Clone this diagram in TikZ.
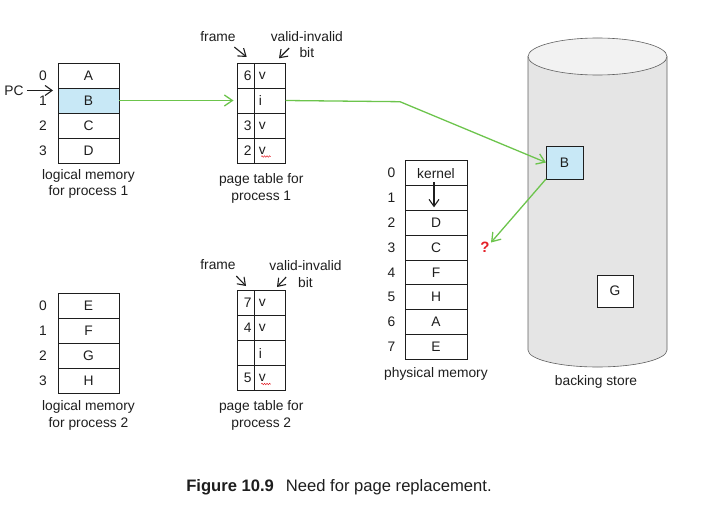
\documentclass[tikz,border=0pt]{standalone}
\usepackage{fontspec}
\setmainfont{Liberation Sans}
\usetikzlibrary{positioning, arrows.meta, decorations.pathmorphing}

\definecolor{linegreen}{RGB}{108,196,76}
\definecolor{cellblue}{RGB}{200,232,246}
\definecolor{storegray}{RGB}{229,229,229}
\definecolor{storetop}{RGB}{242,242,242}
\definecolor{storeline}{RGB}{95,95,95}
\definecolor{qred}{RGB}{228,32,40}
\definecolor{ink}{RGB}{30,30,30}

\begin{document}
\begin{tikzpicture}[x=1pt, y=1pt, font=\fontsize{13.8}{16.5}\selectfont, text=ink,
    cell/.style={draw=ink, line width=0.7pt, minimum width=61pt, minimum height=25pt, inner sep=0pt, outer sep=0pt},
    pcell/.style={cell, minimum width=62pt, minimum height=24.8pt},
    fcell/.style={cell, minimum width=17pt, text width=12pt, align=right, inner sep=2pt},
    bcell/.style={cell, minimum width=31.5pt, text width=22pt, align=left, inner sep=2pt},
    num/.style={inner sep=0pt},
    tablename/.style={align=center, inner sep=0pt},
    pointer/.style={draw=ink, line width=1.1pt, -{Straight Barb[length=7pt, width=10pt]}},
    greenarrow/.style={draw=linegreen, line width=1.3pt, -{Straight Barb[length=8pt, width=11pt]}},
    typo/.style={draw=qred, line width=0.5pt, decorate, decoration={snake, segment length=2.5pt, amplitude=0.7pt}}]
    \useasboundingbox (0,0) rectangle (701,507);

    % Backing store
    \fill[storegray] (528,450.5) -- (528,157) arc[start angle=180, end angle=360, x radius=69.5, y radius=17] -- (667,450.5) -- cycle;
    \draw[storeline, line width=0.6pt] (528,450.5) -- (528,157) arc[start angle=180, end angle=360, x radius=69.5, y radius=17] -- (667,450.5);
    \draw[storeline, line width=0.6pt, fill=storetop] (597.5,450.5) ellipse [x radius=69.5, y radius=18.5];
    \node[cell, fill=cellblue, minimum width=37pt, minimum height=33pt] (storeB) at (564.5,344.5) {B};
    \node[cell, fill=white, minimum width=36pt, minimum height=32pt] (storeG) at (615,216) {G};
    \node (storename) at (596,125) {backing store};

    % Logical memory for process 1
    \node[cell] (lm1a) at (88.5,431.5) {A};
    \node[cell, fill=cellblue, below=0pt of lm1a] (lm1b) {B};
    \node[cell, below=0pt of lm1b] (lm1c) {C};
    \node[cell, below=0pt of lm1c] (lm1d) {D};
    \node[num, left=11pt of lm1a] {0};
    \node[num, left=11pt of lm1b] {1};
    \node[num, left=11pt of lm1c] {2};
    \node[num, left=11pt of lm1d] {3};
    \node[tablename, below=6pt of lm1d] (lm1name) {logical memory\\for process 1};
    \node[num] (pc) at (14,416.5) {PC};

    % Page table for process 1
    \node[fcell] (pt1a) at (245.5,431.5) {6};
    \node[fcell, below=0pt of pt1a] (pt1b) {};
    \node[fcell, below=0pt of pt1b] (pt1c) {3};
    \node[fcell, below=0pt of pt1c] (pt1d) {2};
    \node[bcell, right=0pt of pt1a] (pt1av) {v};
    \node[bcell, right=0pt of pt1b] (pt1bv) {i};
    \node[bcell, right=0pt of pt1c] (pt1cv) {v};
    \node[bcell, right=0pt of pt1d] (pt1dv) {v};
    \node[tablename, anchor=north] (pt1name) at ([shift={(7.25,-10.5)}]pt1d.south east) {page table for\\process 1};
    \node (fr1) at ([shift={(-27.5,26)}]pt1a.north) {frame};
    \node[align=center] (vi1) at ([shift={(21.3,18.2)}]pt1av.north east) {valid-invalid\\bit};

    % Physical memory
    \node[pcell] (pm0) at (436,333.9) {kernel};
    \node[pcell, below=0pt of pm0] (pm1) {};
    \node[pcell, below=0pt of pm1] (pm2) {D};
    \node[pcell, below=0pt of pm2] (pm3) {C};
    \node[pcell, below=0pt of pm3] (pm4) {F};
    \node[pcell, below=0pt of pm4] (pm5) {H};
    \node[pcell, below=0pt of pm5] (pm6) {A};
    \node[pcell, below=0pt of pm6] (pm7) {E};
    \node[num, left=9.5pt of pm0] {0};
    \node[num, left=9.5pt of pm1] {1};
    \node[num, left=9.5pt of pm2] {2};
    \node[num, left=9.5pt of pm3] {3};
    \node[num, left=9.5pt of pm4] {4};
    \node[num, left=9.5pt of pm5] {5};
    \node[num, left=9.5pt of pm6] {6};
    \node[num, left=9.5pt of pm7] {7};
    \node[tablename, below=8pt of pm7] (pmname) {physical memory};
    \node[text=qred, font=\fontsize{15}{16.5}\selectfont\bfseries] (qmark) at (485,260) {?};

    % Logical memory for process 2
    \node[cell] (lm2a) at (88.5,201.2) {E};
    \node[cell, below=0pt of lm2a] (lm2b) {F};
    \node[cell, below=0pt of lm2b] (lm2c) {G};
    \node[cell, below=0pt of lm2c] (lm2d) {H};
    \node[num, left=11pt of lm2a] {0};
    \node[num, left=11pt of lm2b] {1};
    \node[num, left=11pt of lm2c] {2};
    \node[num, left=11pt of lm2d] {3};
    \node[tablename, below=7pt of lm2d] (lm2name) {logical memory\\for process 2};

    % Page table for process 2
    \node[fcell] (pt2a) at (245.5,204) {7};
    \node[fcell, below=0pt of pt2a] (pt2b) {4};
    \node[fcell, below=0pt of pt2b] (pt2c) {};
    \node[fcell, below=0pt of pt2c] (pt2d) {5};
    \node[bcell, right=0pt of pt2a] (pt2av) {v};
    \node[bcell, right=0pt of pt2b] (pt2bv) {v};
    \node[bcell, right=0pt of pt2c] (pt2cv) {i};
    \node[bcell, right=0pt of pt2d] (pt2dv) {v};
    \node[tablename, anchor=north] (pt2name) at ([shift={(7.25,-10)}]pt2d.south east) {page table for\\process 2};
    \node (fr2) at ([shift={(-27.5,25.5)}]pt2a.north) {frame};
    \node[align=center] (vi2) at ([shift={(20,16.5)}]pt2av.north east) {valid-invalid\\bit};

    % Caption
    \node[font=\fontsize{16.6}{19}\selectfont] (caption) at (339,20) {\textbf{Figure 10.9}\hspace{12pt}Need for page replacement.};

    % Connections
    \coordinate (bend) at (400,405.3);
    \coordinate (miss) at (491,264.5);
    \draw[pointer] ([xshift=3pt]pc.east) -- ([xshift=-5pt]pc.east -| lm1b.west);
    \draw[pointer] ([shift={(-4.8,-1.5)}]fr1.south east) -- ([shift={(1.2,6)}]pt1a.north);
    \draw[pointer] ([shift={(22,-3.2)}]vi1.west) -- ([shift={(-6.5,4.7)}]pt1av.north east);
    \draw[pointer] ([shift={(-2.8,-2.5)}]fr2.south east) -- ([shift={(0.5,4.5)}]pt2a.north);
    \draw[pointer] ([shift={(20.25,-3)}]vi2.west) -- ([shift={(-8.5,3.5)}]pt2av.north east);
    \draw[pointer] ([shift={(-2pt,3.5pt)}]pm0.south) -- ([shift={(-2pt,3pt)}]pm1.south);
    \draw[greenarrow, shorten >=3.5pt] (lm1b.east) -- (pt1b.west);
    \draw[greenarrow] (pt1bv.east) -- (bend) -- (storeB.west);
    \draw[greenarrow] (storeB.south west) -- (miss);
    \draw[typo] ([shift={(-8.5,-6)}]pt1dv.center) -- ++(9.5,0);
    \draw[typo] ([shift={(-8.5,-6)}]pt2dv.center) -- ++(9.5,0);
\end{tikzpicture}
\end{document}
